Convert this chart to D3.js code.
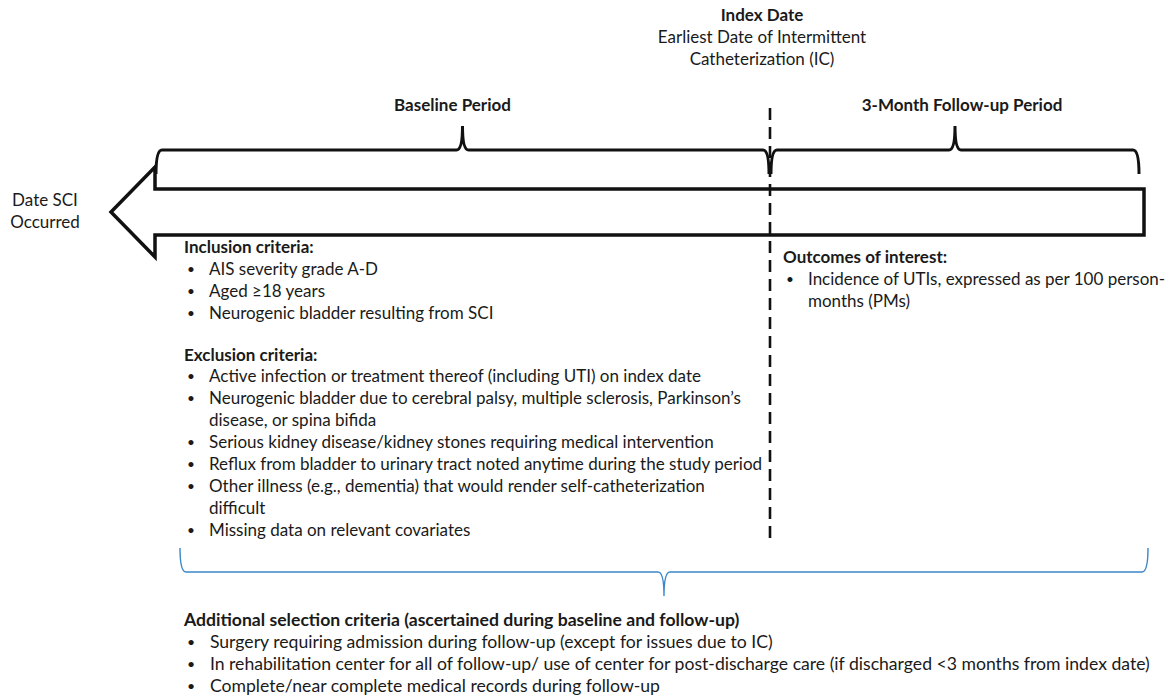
<!DOCTYPE html>
<html>
<head>
<meta charset="utf-8">
<script src="https://cdn.jsdelivr.net/npm/d3@7"></script>
<style>
  body { margin: 0; background: #fff; }
  svg text { font-family: Lato, 'Open Sans', sans-serif; fill: #1a1a1a; }
</style>
</head>
<body>
<div id="chart"></div>
<script>
// Header texts
const indexTitle = 'Index Date';
const indexSubtitle = ['Earliest Date of Intermittent', 'Catheterization (IC)'];
const sciLabel = ['Date SCI', 'Occurred'];

// Periods on the timeline (0 = SCI, 1 = index date, 2 = end of follow-up)
const periods = [
  { name: 'Baseline Period', start: 0, end: 1 },
  { name: '3-Month Follow-up Period', start: 1, end: 2 },
];

const inclusionTitle = 'Inclusion criteria:';
const inclusionItems = [
  ['AIS severity grade A-D'],
  ['Aged \u226518 years'],
  ['Neurogenic bladder resulting from SCI'],
];

const exclusionTitle = 'Exclusion criteria:';
const exclusionItems = [
  ['Active infection or treatment thereof (including UTI) on index date'],
  ['Neurogenic bladder due to cerebral palsy, multiple sclerosis, Parkinson\u2019s', 'disease, or spina bifida'],
  ['Serious kidney disease/kidney stones requiring medical intervention'],
  ['Reflux from bladder to urinary tract noted anytime during the study period'],
  ['Other illness (e.g., dementia) that would render self-catheterization', 'difficult'],
  ['Missing data on relevant covariates'],
];

const outcomesTitle = 'Outcomes of interest:';
const outcomesItems = [
  ['Incidence of UTIs, expressed as per 100 person-', 'months (PMs)'],
];

const additionalTitle = 'Additional selection criteria (ascertained during baseline and follow-up)';
const additionalItems = [
  ['Surgery requiring admission during follow-up (except for issues due to IC)'],
  ['In rehabilitation center for all of follow-up/ use of center for post-discharge care (if discharged <3 months from index date)'],
  ['Complete/near complete medical records during follow-up'],
];

const width = 1166;
const height = 697;
const lineH = 21.9;
const fontSize = 17;

const svg = d3.select('#chart')
  .append('svg')
  .attr('width', width)
  .attr('height', height);

// Timeline scale: piecewise so index date sits where it is in the figure
const tx = d3.scaleLinear().domain([0, 1, 2]).range([155, 770, 1140]);

// Horizontal brace, ends bend by `depth` (positive: ends go down, tip goes up)
function bracePath(x1, x2, y, depth) {
  const mid = (x1 + x2) / 2;
  const r = 6;
  const p = d3.path();
  p.moveTo(x1, y + depth);
  p.quadraticCurveTo(x1, y, x1 + r, y);
  p.lineTo(mid - r, y);
  p.quadraticCurveTo(mid, y, mid, y - depth);
  p.quadraticCurveTo(mid, y, mid + r, y);
  p.lineTo(x2 - r, y);
  p.quadraticCurveTo(x2, y, x2, y + depth);
  return p.toString();
}

// Big arrow pointing back to SCI date
const arrowTop = 189;
const arrowBottom = 235;
const headTip = 111;
const headSpread = 22;
const arrowPts = [
  [tx(2) + 4, arrowTop],
  [tx(0), arrowTop],
  [tx(0), arrowTop - headSpread],
  [headTip, (arrowTop + arrowBottom) / 2],
  [tx(0), arrowBottom + headSpread],
  [tx(0), arrowBottom],
  [tx(2) + 4, arrowBottom],
];
svg.append('path')
  .attr('d', d3.line()(arrowPts) + 'Z')
  .attr('fill', '#fff')
  .attr('stroke', '#111')
  .attr('stroke-width', 3.5)
  .attr('stroke-linejoin', 'miter');

// Period braces and labels
svg.selectAll('.brace')
  .data(periods)
  .enter()
  .append('path')
  .attr('class', 'brace')
  .attr('d', (d) => bracePath(tx(d.start) + 1, tx(d.end) - 1, 150, 24))
  .attr('fill', 'none')
  .attr('stroke', '#111')
  .attr('stroke-width', 3);

// labels sit slightly off the brace tips in the source
svg.selectAll('.period-label')
  .data(periods)
  .enter()
  .append('text')
  .attr('class', 'period-label')
  .attr('x', (d, i) => (tx(d.start) + tx(d.end)) / 2 + (i ? 7 : -10))
  .attr('y', 111)
  .attr('text-anchor', 'middle')
  .style('font-size', `${fontSize}px`)
  .style('font-weight', 700)
  .text((d) => d.name);

// Index date dashed line
svg.append('line')
  .attr('x1', tx(1))
  .attr('x2', tx(1))
  .attr('y1', 108)
  .attr('y2', 541)
  .attr('stroke', '#111')
  .attr('stroke-width', 2.6)
  .attr('stroke-dasharray', '12,7');

// Index date header
svg.append('text')
  .attr('x', tx(1) - 8)
  .attr('y', 21)
  .attr('text-anchor', 'middle')
  .style('font-size', `${fontSize}px`)
  .style('font-weight', 700)
  .text(indexTitle);

svg.selectAll('.index-sub')
  .data(indexSubtitle)
  .enter()
  .append('text')
  .attr('class', 'index-sub')
  .attr('x', tx(1) - 8)
  .attr('y', (d, i) => 43 + i * lineH)
  .attr('text-anchor', 'middle')
  .style('font-size', `${fontSize}px`)
  .text((d) => d);

// SCI label
svg.selectAll('.sci')
  .data(sciLabel)
  .enter()
  .append('text')
  .attr('class', 'sci')
  .attr('x', 45)
  .attr('y', (d, i) => 206 + i * lineH)
  .attr('text-anchor', 'middle')
  .style('font-size', `${fontSize}px`)
  .text((d) => d);

// Draws a bold title followed by bulleted items, returns the y after the block
function bulletBlock(g, x, y, title, items) {
  g.append('text')
    .attr('x', x)
    .attr('y', y)
    .style('font-size', `${fontSize}px`)
    .style('font-weight', 700)
    .text(title);
  let row = 1;
  items.forEach((lines) => {
    g.append('text')
      .attr('x', x + 3)
      .attr('y', y + row * lineH - 1)
      .style('font-size', `${fontSize * 0.8}px`)
      .text('\u2022');
    lines.forEach((line) => {
      g.append('text')
        .attr('x', x + 25)
        .attr('y', y + row * lineH)
        .style('font-size', `${fontSize}px`)
        .text(line);
      row += 1;
    });
  });
  return y + row * lineH;
}

const left = svg.append('g');
const afterIncl = bulletBlock(left, 184, 253, inclusionTitle, inclusionItems);
bulletBlock(left, 184, afterIncl + lineH - 2, exclusionTitle, exclusionItems);

bulletBlock(svg.append('g'), 783, 263, outcomesTitle, outcomesItems);

// Blue brace grouping baseline and follow-up
svg.append('path')
  .attr('d', bracePath(180, 1148, 572, -24))
  .attr('fill', 'none')
  .attr('stroke', '#3b86c8')
  .attr('stroke-width', 1.4);

// Additional criteria, fitted to the width the source uses
const bottom = svg.append('g');
bulletBlock(bottom, 184, 626, additionalTitle, additionalItems);
const longest = d3.max(bottom.selectAll('text').nodes(), (n) => n.getComputedTextLength());
const squeeze = (1150 - 209) / longest;
bottom.attr('transform', `translate(${184 * (1 - squeeze)},0) scale(${squeeze},1)`);
</script>
</body>
</html>
